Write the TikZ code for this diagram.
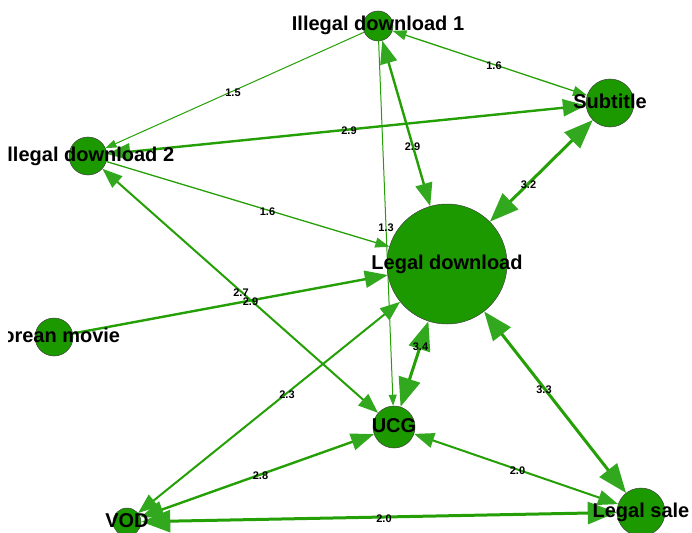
\documentclass[tikz,border=0pt]{standalone}
\usepackage{fontspec}
\setmainfont{Liberation Sans}
\usetikzlibrary{arrows.meta,calc}
\definecolor{nodefill}{RGB}{29,153,0}
\definecolor{edgecol}{RGB}{36,160,6}
\definecolor{tipcol}{RGB}{50,168,30}
\pgfdeclarelayer{bg}
\pgfsetlayers{bg,main}
\begin{document}
\begin{tikzpicture}[x=1pt,y=-1pt,
  vert/.style={circle,draw=black!75,line width=0.5pt,fill=nodefill,inner sep=0pt},
  nlab/.style={font=\fontsize{20}{22}\selectfont\bfseries,text=black,inner sep=0pt,anchor=base,yshift=-5pt},
  elab/.style={font=\fontsize{11}{12}\selectfont\bfseries,text=black,inner sep=0pt,yshift=-1.5pt},
  edge/.style={draw=edgecol},
  wA/.style={edge,line width=1pt,>={Triangle[length=11pt,width=8pt,color=tipcol]}},
  wB/.style={edge,line width=1.3pt,>={Triangle[length=14pt,width=10pt,color=tipcol]}},
  wC/.style={edge,line width=2pt,>={Triangle[length=20pt,width=15pt,color=tipcol]}},
  wD/.style={edge,line width=2.4pt,>={Triangle[length=23pt,width=17pt,color=tipcol]}},
  wE/.style={edge,line width=3pt,>={Triangle[length=29pt,width=22pt,color=tipcol]}}
]
\useasboundingbox (0,0) rectangle (692,532);
\clip (8,0) rectangle (692,532);

% vertices
\node[vert,minimum size=30pt]  (id1) at (378,26)  {};
\node[vert,minimum size=48pt]  (sub) at (610,103) {};
\node[vert,minimum size=38pt]  (id2) at (88,156)  {};
\node[vert,minimum size=120pt] (ld)  at (447,264) {};
\node[vert,minimum size=38pt]  (km)  at (54,337)  {};
\node[vert,minimum size=42pt]  (ucg) at (394,427) {};
\node[vert,minimum size=28pt]  (vod) at (127,522) {};
\node[vert,minimum size=48pt]  (ls)  at (641,512) {};

% edges
\begin{pgfonlayer}{bg}
\draw[wA,->]  (id1) -- (id2);
\draw[wB,<->] (id1) -- (sub);
\draw[wD,<->] (id2) -- (sub);
\draw[wD,<->] (id1) -- (ld);
\draw[wA,->]  (id1) -- (ucg);
\draw[wE,<->] (sub) -- (ld);
\draw[wB,->]  (id2) -- (ld);
\draw[wC,<->] (id2) -- (ucg);
\draw[wD,->]  (km)  -- (ld);
\draw[wE,<->] (ld)  -- (ucg);
\draw[wC,<->] (ld)  -- (vod);
\draw[wE,<->] (ld)  -- (ls);
\draw[wD,<->] (vod) -- (ucg);
\draw[wC,<->] (ucg) -- (ls);
\draw[wE,<->] (vod) -- (ls);
\end{pgfonlayer}

% vertex labels
\node[nlab] (tid1) at (id1) {Illegal download 1};
\node[nlab] (tsub) at (sub) {Subtitle};
\node[nlab] (tid2) at (id2) {Illegal download 2};
\node[nlab] (tld)  at (ld)  {Legal download};
\node[nlab] (tkm)  at (km)  {Korean movie};
\node[nlab] (tucg) at (ucg) {UCG};
\node[nlab] (tvod) at (vod) {VOD};
\node[nlab] (tls)  at (ls)  {Legal sale};

% edge labels
\node[elab] (l1)  at ($(id1)!0.5!(id2)$) {1.5};
\node[elab] (l2)  at ($(id1)!0.5!(sub)$) {1.6};
\node[elab] (l3)  at ($(id2)!0.5!(sub)$) {2.9};
\node[elab] (l4)  at ($(id1)!0.5!(ld)$)  {2.9};
\node[elab] (l5)  at ($(id1)!0.5!(ucg)$) {1.3};
\node[elab] (l6)  at ($(sub)!0.5!(ld)$)  {3.2};
\node[elab] (l7)  at ($(id2)!0.5!(ld)$)  {1.6};
\node[elab] (l8)  at ($(id2)!0.5!(ucg)$) {2.7};
\node[elab] (l9)  at ($(km)!0.5!(ld)$)   {2.9};
\node[elab] (l10) at ($(ld)!0.5!(ucg)$)  {3.4};
\node[elab] (l11) at ($(ld)!0.5!(vod)$)  {2.3};
\node[elab] (l12) at ($(ld)!0.5!(ls)$)   {3.3};
\node[elab] (l13) at ($(vod)!0.5!(ucg)$) {2.8};
\node[elab] (l14) at ($(ucg)!0.5!(ls)$)  {2.0};
\node[elab] (l15) at ($(vod)!0.5!(ls)$)  {2.0};
\end{tikzpicture}
\end{document}
